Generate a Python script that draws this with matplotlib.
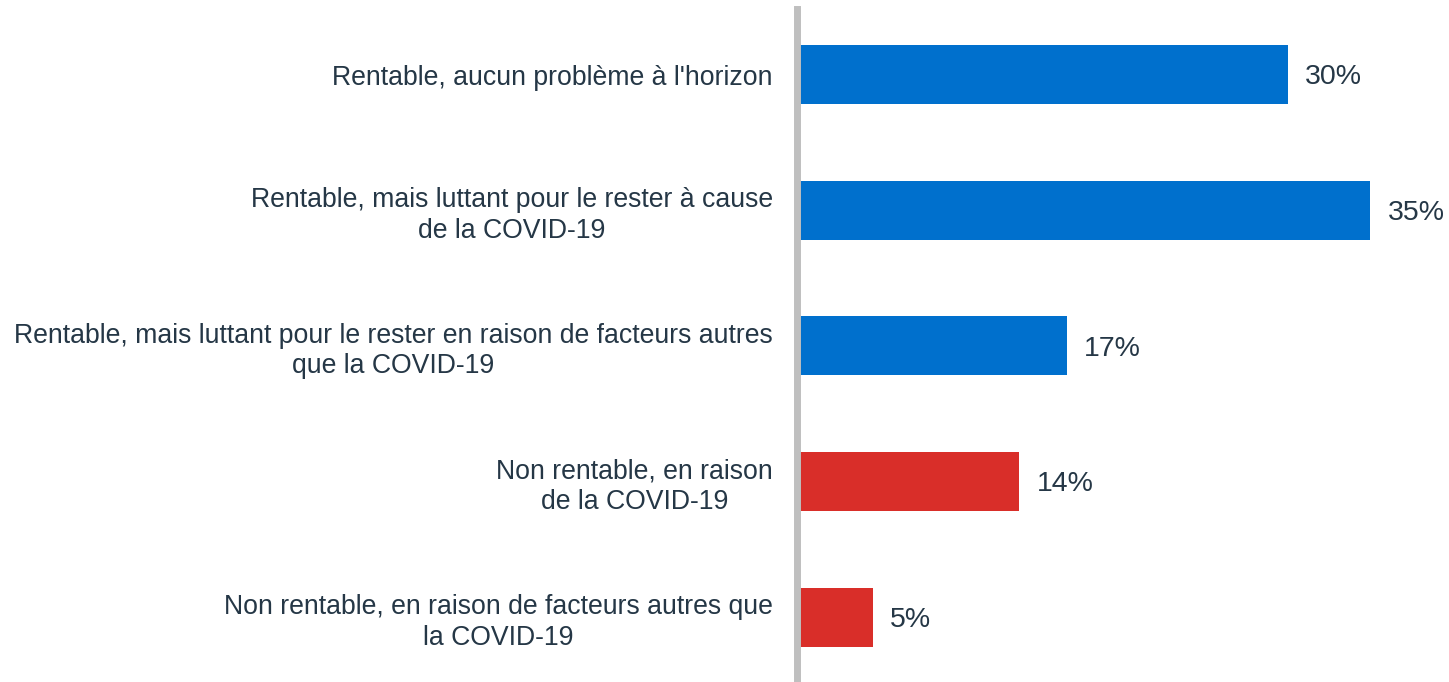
import matplotlib.pyplot as plt

categories = [
    "Rentable, aucun problème à l'horizon",
    "Rentable, mais luttant pour le rester à cause\nde la COVID-19",
    "Rentable, mais luttant pour le rester en raison de facteurs autres\nque la COVID-19",
    "Non rentable, en raison\nde la COVID-19",
    "Non rentable, en raison de facteurs autres que\nla COVID-19",
]
values = [30.0, 35.1, 16.4, 13.5, 4.5]
value_labels = ["30%", "35%", "17%", "14%", "5%"]
colors = ["#0070cd", "#0070cd", "#0070cd", "#d92e29", "#d92e29"]

plt.rcParams["font.family"] = ["Liberation Sans", "DejaVu Sans"]
text_color = "#253746"

fig = plt.figure(figsize=(14.49, 6.82), dpi=100)
ax = fig.add_axes([796.5 / 1449, 0, 652.5 / 1449, 673 / 682])

pos = list(range(len(categories)))
ax.barh(pos, values, height=0.435, color=colors)
ax.set_xlim(-3.5 / 16.25, 649 / 16.25)
ax.set_ylim(4.476, -0.483)

for p, v, lab in zip(pos, values, value_labels):
    ax.text(v + 1.05, p + 0.02, lab, va="center", ha="left", fontsize=20.5, color=text_color)

ax.set_yticks(pos)
ax.set_yticklabels(categories, fontsize=19.2, color=text_color, ha="right",
                   multialignment="center", linespacing=1.22)
ax.tick_params(axis="y", length=0, pad=17)
ax.set_xticks([])
for s in ["top", "right", "bottom"]:
    ax.spines[s].set_visible(False)
ax.spines["left"].set_color("#bfbfbf")
ax.spines["left"].set_linewidth(5)
ax.spines["left"].set_zorder(3)

fig.savefig("out.png", dpi=100)
